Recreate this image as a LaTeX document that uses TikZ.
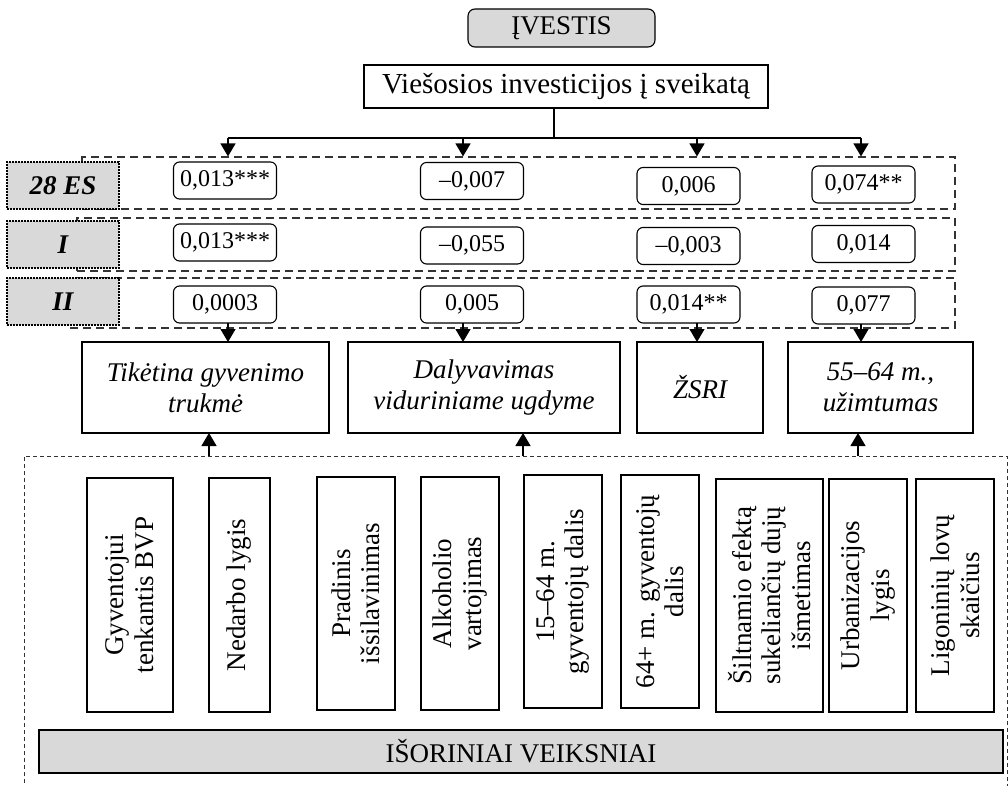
\documentclass[tikz,border=0pt]{standalone}
\usepackage{fontspec}
\setmainfont{Liberation Serif}
\usetikzlibrary{arrows.meta}
\definecolor{fillgray}{HTML}{D9D9D9}
\definecolor{linegray}{HTML}{333333}
\tikzset{
  base/.style={inner sep=0pt, outer sep=0pt, line width=1.1pt, font=\fontsize{27}{29.5}\selectfont, align=center},
  graybox/.style={base, draw, fill=fillgray, rounded corners=7pt},
  plainbox/.style={base, draw, fill=white},
  valbox/.style={base, draw, fill=white, rounded corners=6pt, minimum width=103pt, minimum height=37pt, font=\fontsize{24}{28}\selectfont},
  labbox/.style={base, draw, fill=fillgray, dash pattern=on 2pt off 1pt, minimum width=112pt, minimum height=47pt, font=\fontsize{27}{30}\selectfont\bfseries\itshape},
  rowbox/.style={draw=linegray, line width=1.1pt, dash pattern=on 8pt off 5pt, inner sep=0pt},
  catbox/.style={base, draw, fill=white, minimum height=91pt, font=\fontsize{27}{31}\selectfont\itshape},
  vbox/.style={base, draw, fill=white, rotate=90},
  arr/.style={line width=1.3pt, -{Triangle[width=15pt,length=13pt]}},
  outer/.style={draw=linegray, line width=1pt, dash pattern=on 4pt off 3pt}
}
\begin{document}
\begin{tikzpicture}[x=1pt,y=-1pt]
\useasboundingbox (0,0) rectangle (1008,786);
% top
\node[graybox, minimum width=187pt, minimum height=38pt] (ivestis) at (561.5,28) {ĮVESTIS};
\node[plainbox, minimum width=404pt, minimum height=43pt, font=\fontsize{29}{32}\selectfont] (inv) at (566,86.5) {Viešosios investicijos į sveikatą};
\coordinate (j) at (554,138);
\coordinate (a1) at (228,138);
\coordinate (a2) at (463,138);
\coordinate (a3) at (697,138);
\coordinate (a4) at (861,138);
\draw[line width=1.1pt] (inv.south -| j) -- (j);
\draw[line width=1.3pt] (a1) -- (a4);
% rows
\node[rowbox, minimum width=873pt, minimum height=52pt] (r1) at (518.5,183) {};
\node[rowbox, minimum width=878pt, minimum height=53pt] (r2) at (516,244.5) {};
\node[rowbox, minimum width=885pt, minimum height=50pt] (r3) at (512.5,303) {};
\foreach \i in {1,...,4}{\draw[arr] (a\i) -- (a\i |- r1.north);}
% row labels
\node[labbox] (l1) at (63,185.5) {28 ES};
\node[labbox] (l2) at (63,244.5) {I};
\node[labbox] (l3) at (63,301.5) {II};
% values
\node[valbox] (v11) at (225,180.5) {0,013***};
\node[valbox] (v12) at (225,242.5) {0,013***};
\node[valbox] (v13) at (225,304.5) {0,0003};
\node[valbox] (v21) at (472,181) {–0,007};
\node[valbox] (v22) at (472,245.5) {–0,055};
\node[valbox] (v23) at (472,304.5) {0,005};
\node[valbox] (v31) at (688.5,186) {0,006};
\node[valbox] (v32) at (688.5,246) {–0,003};
\node[valbox] (v33) at (688.5,304.5) {0,014**};
\node[valbox] (v41) at (863.5,184.5) {0,074**};
\node[valbox] (v42) at (863.5,244) {0,014};
\node[valbox] (v43) at (863.5,305.5) {0,077};
% categories
\node[catbox, minimum width=247pt] (c1) at (205.5,387.5) {Tikėtina gyvenimo\\trukmė};
\node[catbox, minimum width=272pt] (c2) at (484,387.5) {Dalyvavimas\\viduriniame ugdyme};
\node[catbox, minimum width=126pt] (c3) at (700,387.5) {ŽSRI};
\node[catbox, minimum width=185pt] (c4) at (880.5,387.5) {55–64 m.,\\užimtumas};
\draw[arr] (a1 |- v13.south) -- (a1 |- c1.north);
\draw[arr] (a2 |- v23.south) -- (a2 |- c2.north);
\draw[arr] (a3 |- v33.south) -- (a3 |- c3.north);
\draw[arr] (a4 |- v43.south) -- (a4 |- c4.north);
% outer frame
\coordinate (o1) at (24,456);
\coordinate (o2) at (1007,456);
\coordinate (o3) at (24,790);
\coordinate (o4) at (1007,790);
\draw[outer] (o3) -- (o1) -- (o2) -- (o4);
\coordinate (u1) at (209,456);
\coordinate (u2) at (523,456);
\coordinate (u4) at (858,456);
\draw[arr] (u1) -- (u1 |- c1.south);
\draw[arr] (u2) -- (u2 |- c2.south);
\draw[arr] (u4) -- (u4 |- c4.south);
% vertical factor boxes
\node[vbox, minimum width=234pt, minimum height=86pt] (f1) at (130,595) {Gyventojui\\tenkantis BVP};
\node[vbox, minimum width=234pt, minimum height=61pt] (f2) at (239.5,595) {Nedarbo lygis};
\node[vbox, minimum width=233pt, minimum height=78pt] (f3) at (356,593.5) {Pradinis\\išsilavinimas};
\node[vbox, minimum width=233pt, minimum height=78pt] (f4) at (460,593.5) {Alkoholio\\vartojimas};
\node[vbox, minimum width=233pt, minimum height=78pt] (f5) at (563,591.5) {15–64 m.\\gyventojų dalis};
\node[vbox, minimum width=233pt, minimum height=78pt] (f6) at (660,591.5) {64+ m. gyventojų\\dalis};
\node[vbox, minimum width=233pt, minimum height=107pt] (f7) at (769.5,595.5) {Šiltnamio efektą\\sukeliančių dujų\\išmetimas};
\node[vbox, minimum width=233pt, minimum height=78pt] (f8) at (868,595.5) {Urbanizacijos\\lygis};
\node[vbox, minimum width=233pt, minimum height=78pt] (f9) at (955,595.5) {Ligoninių lovų\\skaičius};
% bar
\node[plainbox, fill=fillgray, minimum width=964pt, minimum height=43pt] (ext) at (521,751.5) {IŠORINIAI VEIKSNIAI};
\end{tikzpicture}
\end{document}
